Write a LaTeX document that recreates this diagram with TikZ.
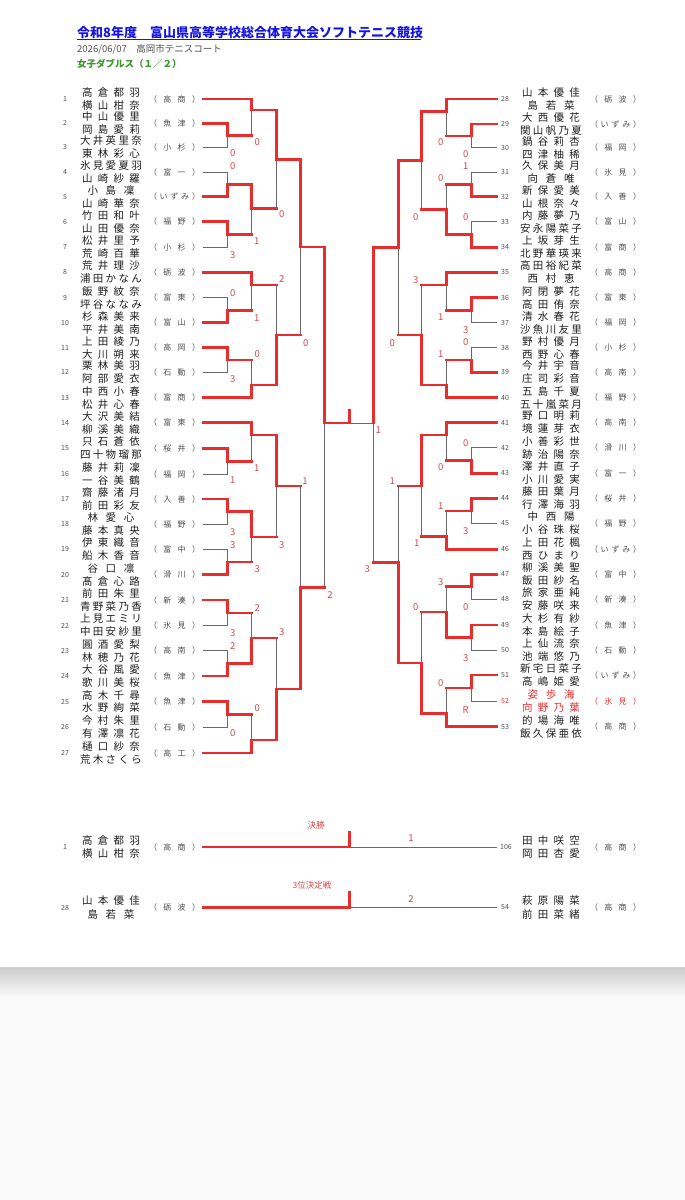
\documentclass[tikz,border=0pt]{standalone}
\usepackage{fontspec}
\setmainfont{Noto Sans CJK JP}
\definecolor{rl}{RGB}{232,45,45}
\definecolor{glc}{RGB}{105,105,105}
\definecolor{scc}{RGB}{214,72,72}
\definecolor{ttl}{RGB}{22,22,228}
\definecolor{grn}{RGB}{62,150,45}
\definecolor{dgr}{RGB}{80,80,80}
\definecolor{bgc}{RGB}{250,250,250}
\definecolor{shd}{RGB}{205,205,205}
\makeatletter
\newcount\spcnt
\newcommand\spreadnm[1]{%
 \spcnt=0\relax
 \@tfor\sp@c:=#1\do{\advance\spcnt by 1\relax}%
 \ifnum\spcnt<4 \def\sp@w{47pt}\else\ifnum\spcnt=4 \def\sp@w{58pt}\else\def\sp@w{62pt}\fi\fi
 \makebox[\sp@w][s]{\@tfor\sp@c:=#1\do{\sp@c\hfill}\unskip}}
\newcommand\spreadbx[2]{\makebox[#1][s]{\@tfor\sp@c:=#2\do{\sp@c\hfill}\unskip}}
\makeatother
\tikzset{
 numn/.style={font=\fontsize{7}{8}\selectfont, text=dgr, inner sep=0},
 nmn/.style={font=\fontsize{10.5}{12}\selectfont, text=black!88, inner sep=0},
 scn/.style={font=\fontsize{8}{9}\selectfont, text=dgr, inner sep=0},
 scr/.style={font=\fontsize{9.5}{10}\selectfont, text=scc, inner sep=0},
 redln/.style={draw=rl, line width=2.6pt, line cap=rect},
 grayln/.style={draw=glc, line width=1pt},
}
% left entry: idx, y, name1, name2, school
\newcommand\Lentry[6][]{%
 \coordinate (e#2) at (203,#3);
 \node[numn,#1] (ln#2) at (65,#3) {#2};
 \node[nmn,#1] (la#2) at (111,#3-6.5) {\spreadnm{#4}};
 \node[nmn,#1] (lb#2) at (111,#3+6.5) {\spreadnm{#5}};
 \node[scn,#1] (ls#2) at (174.5,#3) {\spreadbx{51pt}{（#6）}};}
\newcommand\Rentry[6][]{%
 \coordinate (f#2) at (496.7,#3);
 \node[numn,#1] (rn#2) at (505,#3) {#2};
 \node[nmn,#1] (ra#2) at (551,#3-6.5) {\spreadnm{#4}};
 \node[nmn,#1] (rb#2) at (551,#3+6.5) {\spreadnm{#5}};
 \node[scn,#1] (rs#2) at (615.5,#3) {\spreadbx{51pt}{（#6）}};}
\newcommand\Wn[2]{\draw[redln] (#1) -| (#2);}
\newcommand\LE[2]{\draw[grayln] (#1) -| (#2);}
\newcommand\LMg[2]{\draw[grayln] (#1 -| #2) -- (#2);}
\newcommand\LMr[2]{\draw[redln] (#1) -- (#1 -| #2);}
\begin{document}
\begin{tikzpicture}[x=1pt,y=-1pt]
\useasboundingbox (0,0) rectangle (685,1200);
\fill[white] (0,0) rectangle (685,967);
\fill[bgc] (0,967) rectangle (685,1200);
\shade[top color=shd, bottom color=bgc] (0,967) rectangle (685,997);
% header
\node[anchor=west, inner sep=0, text=ttl, font=\fontsize{13}{14}\selectfont\bfseries] (title) at (77,32.5) {令和8年度　富山県高等学校総合体育大会ソフトテニス競技};
\coordinate (ul1) at (77,39.8);
\coordinate (ul2) at (421,39.8);
\draw[ttl, line width=0.9pt] (ul1) -- (ul2);
\node[anchor=west, inner sep=0, text=dgr, font=\fontsize{9.5}{10}\selectfont] (date) at (77,49.5) {2026/06/07　高岡市テニスコート};
\node[anchor=west, inner sep=0, text=grn, font=\fontsize{9.5}{10}\selectfont\bfseries] (sub) at (77,63.5) {女子ダブルス（１／２）};
% entries left
\Lentry{1}{99}{高倉都羽}{横山柑奈}{高商}
\Lentry{2}{123.3}{中山優里}{岡島愛莉}{魚津}
\Lentry{3}{147.5}{大井英里奈}{東林彩心}{小杉}
\Lentry{4}{172.3}{氷見愛夏羽}{山崎紗羅}{富一}
\Lentry{5}{196.7}{小島凜}{山崎華奈}{いずみ}
\Lentry{6}{221.7}{竹田和叶}{山田優奈}{福野}
\Lentry{7}{247.4}{松井里予}{荒崎百華}{小杉}
\Lentry{8}{272.3}{荒井理沙}{浦田かなん}{砺波}
\Lentry{9}{297.7}{飯野紋奈}{坪谷ななみ}{富東}
\Lentry{10}{322.7}{杉森美来}{平井美南}{富山}
\Lentry{11}{347.7}{上田綾乃}{大川朔来}{高岡}
\Lentry{12}{372.3}{栗林美羽}{阿部愛衣}{石動}
\Lentry{13}{397.7}{中西小春}{松井心春}{富商}
\Lentry{14}{422.6}{大沢美結}{柳溪美織}{富東}
\Lentry{15}{448.3}{只石蒼依}{四十物瑠那}{桜井}
\Lentry{16}{474}{藤井莉凜}{一谷美鶴}{福岡}
\Lentry{17}{499}{齋藤渚月}{前田彩友}{入善}
\Lentry{18}{524.3}{林愛心}{藤本真央}{福野}
\Lentry{19}{549.3}{伊東織音}{船木香音}{富中}
\Lentry{20}{574.7}{谷口凛}{髙倉心路}{滑川}
\Lentry{21}{600}{前田朱里}{青野菜乃香}{新湊}
\Lentry{22}{625.5}{上見エミリ}{中田安紗里}{氷見}
\Lentry{23}{650.8}{圓酒愛梨}{林穂乃花}{高南}
\Lentry{24}{676}{大谷風愛}{歌川美桜}{魚津}
\Lentry{25}{701.5}{高木千尋}{水野絢菜}{魚津}
\Lentry{26}{727}{今村朱里}{有澤凛花}{石動}
\Lentry{27}{753}{樋口紗奈}{荒木さくら}{高工}
% entries right
\Rentry{28}{99}{山本優佳}{島若菜}{砺波}
\Rentry{29}{124}{大西優花}{関山帆乃夏}{いずみ}
\Rentry{30}{147.7}{鍋谷莉杏}{四津柚稀}{福岡}
\Rentry{31}{172.3}{久保美月}{向蒼唯}{氷見}
\Rentry{32}{196.7}{新保愛美}{山根奈々}{入善}
\Rentry{33}{221.7}{内藤夢乃}{安永陽菜子}{富山}
\Rentry{34}{247.3}{上坂芽生}{北野華瑛来}{富商}
\Rentry{35}{272.3}{高田裕紀菜}{西村恵}{高商}
\Rentry{36}{297.7}{阿閉夢花}{高田侑奈}{富東}
\Rentry{37}{322.7}{清水春花}{沙魚川友里}{福岡}
\Rentry{38}{347.7}{野村優月}{西野心春}{小杉}
\Rentry{39}{372.3}{今井宇音}{庄司彩音}{高南}
\Rentry{40}{397.7}{五島千夏}{五十嵐菜月}{福野}
\Rentry{41}{422.5}{野口明莉}{境蓮芽衣}{高南}
\Rentry{42}{447.7}{小善彩世}{跡治陽奈}{滑川}
\Rentry{43}{473.3}{澤井直子}{小川愛実}{富一}
\Rentry{44}{498.3}{藤田葉月}{行澤海羽}{桜井}
\Rentry{45}{523.3}{中西陽}{小谷珠桜}{福野}
\Rentry{46}{549.3}{上田花楓}{西ひまり}{いずみ}
\Rentry{47}{574.3}{柳溪美聖}{飯田紗名}{富中}
\Rentry{48}{599}{旅家亜純}{安藤咲来}{新湊}
\Rentry{49}{625}{大杉有紗}{本島絵子}{魚津}
\Rentry{50}{650}{上仙流奈}{池端悠乃}{石動}
\Rentry{51}{675}{新宅日菜子}{高嶋姫愛}{いずみ}
\Rentry[text=rl]{52}{701}{姿歩海}{向野乃葉}{氷見}
\Rentry{53}{726.7}{的場海唯}{飯久保亜依}{高商}
% match points left
\coordinate (mA) at (227.3,135.4);
\coordinate (mD) at (251.7,110);
\coordinate (mB) at (227.3,184.5);
\coordinate (mC) at (227.3,234.5);
\coordinate (mE) at (251.7,208.5);
\coordinate (mF) at (276.7,159.3);
\coordinate (mH) at (227.3,310.2);
\coordinate (mI) at (251.7,284.8);
\coordinate (mJ) at (227.3,360);
\coordinate (mK) at (251.7,385);
\coordinate (mIK) at (276.7,334.9);
\coordinate (mG) at (300.3,247);
\coordinate (mM) at (227.3,461.2);
\coordinate (mN) at (251.7,435);
\coordinate (mO) at (227.3,511.7);
\coordinate (mP) at (227.3,562);
\coordinate (mQ) at (251.7,536.9);
\coordinate (mNQ) at (276.7,486);
\coordinate (mS) at (227.3,612.8);
\coordinate (mT) at (227.3,663.4);
\coordinate (mU) at (251.7,638.1);
\coordinate (mV) at (227.3,714.3);
\coordinate (mW) at (251.7,740);
\coordinate (mUW) at (276.7,689);
\coordinate (mX) at (300.3,587.4);
\coordinate (mLS) at (324.3,423);
% match points right
\coordinate (ra) at (471.7,136);
\coordinate (rd) at (446.7,111.7);
\coordinate (rb) at (471.7,184.5);
\coordinate (rc) at (471.7,234.5);
\coordinate (re) at (446.7,209.5);
\coordinate (rf) at (421.7,160.3);
\coordinate (rh) at (471.7,310.2);
\coordinate (ri) at (446.7,284.8);
\coordinate (rj) at (471.7,360);
\coordinate (rk) at (446.7,385);
\coordinate (rik) at (421.7,334.9);
\coordinate (rg) at (398.3,247.5);
\coordinate (rm) at (471.7,460.5);
\coordinate (rn) at (446.7,435);
\coordinate (ro) at (471.7,510.8);
\coordinate (rq) at (446.7,536.3);
\coordinate (rnq) at (421.7,485.8);
\coordinate (rs) at (471.7,586.7);
\coordinate (rt) at (471.7,637.5);
\coordinate (ru) at (446.7,612.1);
\coordinate (rv) at (471.7,688);
\coordinate (rw) at (446.7,713.7);
\coordinate (ruw) at (421.7,663);
\coordinate (rx) at (398.3,562.3);
\coordinate (rls) at (373.3,423);
\coordinate (ctr) at (349.3,423);
\coordinate (ctrt) at (349.3,410.5);
% gray: losing entries
\LE{e3}{mA} \LE{e4}{mB} \LE{e7}{mC} \LE{e9}{mH} \LE{e12}{mJ} \LE{e16}{mM}
\LE{e18}{mO} \LE{e19}{mP} \LE{e22}{mS} \LE{e23}{mT} \LE{e26}{mV}
\LE{f30}{ra} \LE{f31}{rb} \LE{f33}{rc} \LE{f37}{rh} \LE{f38}{rj} \LE{f42}{rm}
\LE{f45}{ro} \LE{f48}{rs} \LE{f50}{rt} \LE{f52}{rv}
% gray: losing halves
\LMg{mA}{mD} \LMg{mC}{mE} \LMg{mE}{mF} \LMg{mH}{mI} \LMg{mJ}{mK} \LMg{mI}{mIK}
\LMg{mIK}{mG} \LMg{mM}{mN} \LMg{mP}{mQ} \LMg{mQ}{mNQ} \LMg{mS}{mU} \LMg{mV}{mW}
\LMg{mU}{mUW} \LMg{mNQ}{mX} \LMg{mX}{mLS}
\LMg{ra}{rd} \LMg{rb}{re} \LMg{re}{rf} \LMg{rh}{ri} \LMg{rj}{rk} \LMg{ri}{rik}
\LMg{rik}{rg} \LMg{rm}{rn} \LMg{ro}{rq} \LMg{rq}{rnq} \LMg{rs}{ru} \LMg{rv}{rw}
\LMg{ru}{ruw} \LMg{rnq}{rx} \LMg{rx}{rls}
\draw[grayln] (ctr) -- (rls);
% red: losing match outputs
\LMr{mA}{mD} \LMr{mC}{mE} \LMr{mE}{mF} \LMr{mH}{mI} \LMr{mJ}{mK} \LMr{mI}{mIK}
\LMr{mIK}{mG} \LMr{mM}{mN} \LMr{mP}{mQ} \LMr{mQ}{mNQ} \LMr{mS}{mU} \LMr{mV}{mW}
\LMr{mU}{mUW} \LMr{mNQ}{mX} \LMr{mX}{mLS}
\LMr{ra}{rd} \LMr{rb}{re} \LMr{re}{rf} \LMr{rh}{ri} \LMr{rj}{rk} \LMr{ri}{rik}
\LMr{rik}{rg} \LMr{rm}{rn} \LMr{ro}{rq} \LMr{rq}{rnq} \LMr{rs}{ru} \LMr{rv}{rw}
\LMr{ru}{ruw} \LMr{rnq}{rx} \LMr{rx}{rls}
% red: winners
\Wn{e2}{mA} \Wn{e1}{mD} \Wn{e5}{mB} \Wn{e6}{mC} \Wn{mB}{mE} \Wn{mD}{mF}
\Wn{e10}{mH} \Wn{e8}{mI} \Wn{e11}{mJ} \Wn{e13}{mK} \Wn{mK}{mIK} \Wn{mF}{mG}
\Wn{e15}{mM} \Wn{e14}{mN} \Wn{e17}{mO} \Wn{e20}{mP} \Wn{mO}{mQ} \Wn{mN}{mNQ}
\Wn{e21}{mS} \Wn{e24}{mT} \Wn{mT}{mU} \Wn{e25}{mV} \Wn{e27}{mW} \Wn{mW}{mUW}
\Wn{mUW}{mX} \Wn{mG}{mLS}
\Wn{f29}{ra} \Wn{f28}{rd} \Wn{f32}{rb} \Wn{f34}{rc} \Wn{rc}{re} \Wn{rd}{rf}
\Wn{f36}{rh} \Wn{f35}{ri} \Wn{f39}{rj} \Wn{f40}{rk} \Wn{rk}{rik} \Wn{rf}{rg}
\Wn{f43}{rm} \Wn{f41}{rn} \Wn{f44}{ro} \Wn{f46}{rq} \Wn{rn}{rnq}
\Wn{f47}{rs} \Wn{f49}{rt} \Wn{rt}{ru} \Wn{f51}{rv} \Wn{f53}{rw} \Wn{rw}{ruw}
\Wn{ruw}{rx} \Wn{rg}{rls}
\draw[redln] (mLS) -- (ctr);
\draw[redln] (ctr) -- (ctrt);
% scores left
\node[scr] (sA) at (232.7,153.3) {0};
\node[scr] (sD) at (257.3,141.7) {0};
\node[scr] (sB) at (232.7,166) {0};
\node[scr] (sC) at (232.7,255) {3};
\node[scr] (sE) at (256.7,241) {1};
\node[scr] (sF) at (281.7,214.5) {0};
\node[scr] (sH) at (232.7,292.7) {0};
\node[scr] (sI) at (256.7,317.7) {1};
\node[scr] (sJ) at (232.7,379.3) {3};
\node[scr] (sK) at (257.3,354) {0};
\node[scr] (sIK) at (281.7,279) {2};
\node[scr] (sG) at (305.7,342.7) {0};
\node[scr] (sM) at (232.7,480) {1};
\node[scr] (sN) at (256.7,468) {1};
\node[scr] (sO) at (232.7,531.7) {3};
\node[scr] (sP) at (232.7,545) {3};
\node[scr] (sQ) at (257.3,569.3) {3};
\node[scr] (sNQ) at (281.7,545) {3};
\node[scr] (sS) at (232.7,633.3) {3};
\node[scr] (sT) at (232.7,645.7) {2};
\node[scr] (sU) at (257.3,607.7) {2};
\node[scr] (sV) at (232.7,733.3) {0};
\node[scr] (sW) at (257.3,708.3) {0};
\node[scr] (sUW) at (281.7,632) {3};
\node[scr] (sX) at (305,481) {1};
\node[scr] (sLS) at (330,595) {2};
% scores right
\node[scr] (ta) at (465.7,154) {0};
\node[scr] (td) at (440.7,141.7) {0};
\node[scr] (tb) at (465.7,165.7) {1};
\node[scr] (tc) at (465.7,216.7) {0};
\node[scr] (te) at (440.7,178.3) {0};
\node[scr] (tf) at (415.7,216.7) {0};
\node[scr] (th) at (465.7,330) {3};
\node[scr] (ti) at (440.7,317.3) {1};
\node[scr] (tj) at (465.7,342.3) {0};
\node[scr] (tk) at (440.7,354) {1};
\node[scr] (tik) at (415.7,280) {3};
\node[scr] (tg) at (392.3,342.7) {0};
\node[scr] (tm) at (465.7,443.3) {0};
\node[scr] (tn) at (440.7,467.3) {0};
\node[scr] (to) at (465.7,531) {3};
\node[scr] (tq) at (440.7,505.7) {1};
\node[scr] (tnq) at (416.7,543.3) {1};
\node[scr] (ts) at (465.7,607.3) {0};
\node[scr] (tt) at (465.7,658.3) {3};
\node[scr] (tu) at (440.7,582.3) {3};
\node[scr] (tv) at (465.7,710) {R};
\node[scr] (tw) at (440.7,683.3) {0};
\node[scr] (tuw) at (415.7,607) {0};
\node[scr] (tx) at (392.3,481) {1};
\node[scr] (tls) at (367.3,569) {3};
\node[scr] (tctr) at (378.3,430) {1};
% final
\node[scr, font=\fontsize{8.5}{9}\selectfont] (kfin) at (316,825) {決勝};
\node[numn] (fn1) at (65,847) {1};
\node[nmn] (fa1) at (111,840.5) {\spreadnm{高倉都羽}};
\node[nmn] (fb1) at (111,853.5) {\spreadnm{横山柑奈}};
\node[scn] (fs1) at (174.5,847) {\spreadbx{51pt}{（高商）}};
\node[numn] (fn2) at (506,847) {106};
\node[nmn] (fa2) at (551,840.5) {\spreadnm{田中咲空}};
\node[nmn] (fb2) at (551,853.5) {\spreadnm{岡田杏愛}};
\node[scn] (fs2) at (615.5,847) {\spreadbx{51pt}{（高商）}};
\coordinate (fa) at (203,847);
\coordinate (fb) at (349.3,847);
\coordinate (fbt) at (349.3,832);
\coordinate (fc) at (496.7,847);
\draw[grayln] (fb) -- (fc);
\draw[redln] (fa) -- (fb);
\draw[redln] (fb) -- (fbt);
\node[scr] (fsc) at (411,838) {1};
% third place
\node[scr, font=\fontsize{8.5}{9}\selectfont] (kthr) at (312,885) {3位決定戦};
\node[numn] (tn1) at (65,907.5) {28};
\node[nmn] (ta1) at (111,901) {\spreadnm{山本優佳}};
\node[nmn] (tb1) at (111,914) {\spreadnm{島若菜}};
\node[scn] (ts1) at (174.5,907.5) {\spreadbx{51pt}{（砺波）}};
\node[numn] (tn2) at (505,907.5) {54};
\node[nmn] (ta2) at (551,901) {\spreadnm{萩原陽菜}};
\node[nmn] (tb2) at (551,914) {\spreadnm{前田菜緒}};
\node[scn] (ts2) at (615.5,907.5) {\spreadbx{51pt}{（高商）}};
\coordinate (pa) at (203,907.5);
\coordinate (pb) at (349.3,907.5);
\coordinate (pbt) at (349.3,892.5);
\coordinate (pc) at (496.7,907.5);
\draw[grayln] (pb) -- (pc);
\draw[redln] (pa) -- (pb);
\draw[redln] (pb) -- (pbt);
\node[scr] (psc) at (411,899) {2};
\end{tikzpicture}
\end{document}
